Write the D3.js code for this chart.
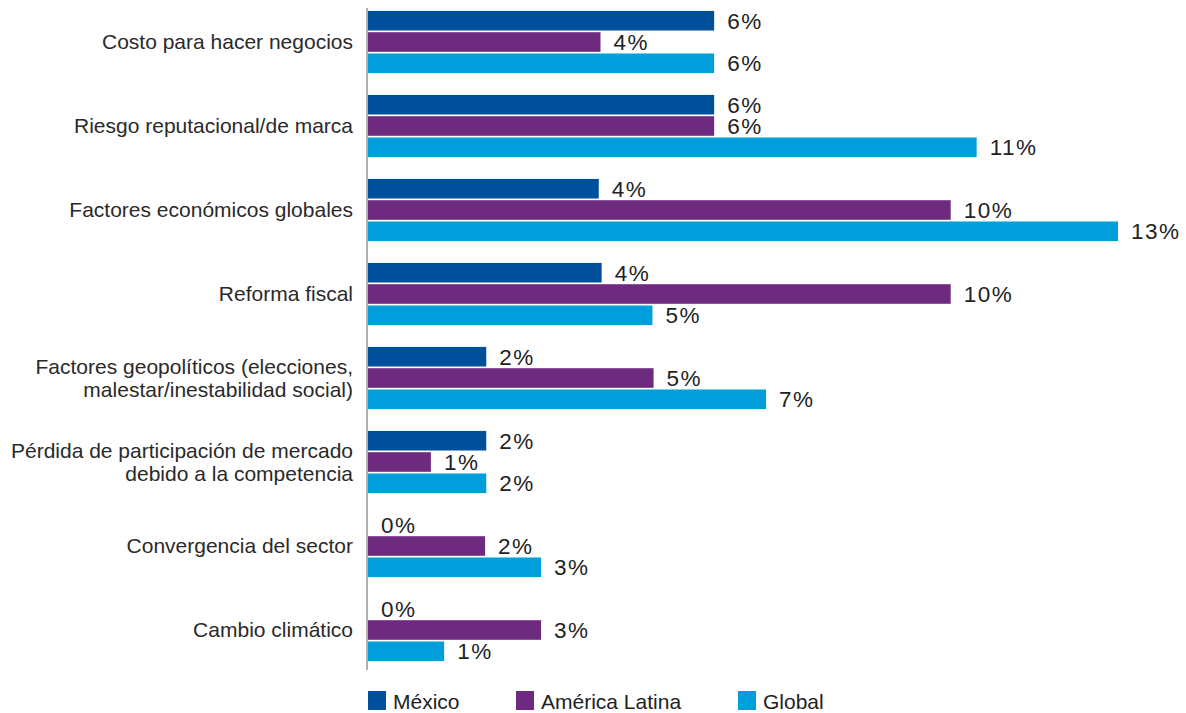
<!DOCTYPE html>
<html>
<head>
    <script src="https://cdn.jsdelivr.net/npm/d3@7/dist/d3.min.js"></script>
    <style>
        body {
            margin: 0;
            background: white;
        }
        svg text {
            font-family: "Liberation Sans", Arial, sans-serif;
            fill: #222;
        }
    </style>
</head>
<body>
<div id="chart"></div>
<script>
    // categories, top to bottom
    var categories = [
        ["Costo para hacer negocios"],
        ["Riesgo reputacional/de marca"],
        ["Factores económicos globales"],
        ["Reforma fiscal"],
        ["Factores geopolíticos (elecciones,", "malestar/inestabilidad social)"],
        ["Pérdida de participación de mercado", "debido a la competencia"],
        ["Convergencia del sector"],
        ["Cambio climático"]
    ];
    var seriesNames = ["México", "América Latina", "Global"];
    var seriesColors = ["#00509b", "#6d2a7e", "#009fdc"];

    // values in percent
    var mexico = [6.0, 6.0, 4.0, 4.05, 2.05, 2.05, 0, 0];
    var latam = [4.03, 6.0, 10.1, 10.1, 4.95, 1.09, 2.03, 3.0];
    var global = [6.0, 10.55, 13.0, 4.93, 6.9, 2.05, 3.0, 1.32];
    var series = [mexico, latam, global];

    var W = 1186, H = 713;
    var margin = {top: 0, left: 368};
    var x = d3.scaleLinear().domain([0, 13]).range([0, 750]);
    var y0 = d3.scaleBand().domain(d3.range(categories.length)).range([0, 672]).paddingInner(0.26).paddingOuter(0.13);
    var y1 = d3.scaleBand().domain(d3.range(seriesNames.length)).range([0, y0.bandwidth()]).paddingInner(0.08);

    var svg = d3.select("#chart").append("svg")
        .attr("width", W)
        .attr("height", H);
    var g = svg.append("g").attr("transform", "translate(" + margin.left + "," + margin.top + ")");

    // groups
    var groups = g.selectAll(".grp")
        .data(categories)
        .enter().append("g")
        .attr("class", "grp")
        .attr("transform", function (d, i) { return "translate(0," + y0(i) + ")"; });

    groups.each(function (cat, i) {
        var grp = d3.select(this);
        series.forEach(function (vals, s) {
            grp.append("rect")
                .attr("x", 0)
                .attr("y", y1(s))
                .attr("width", x(vals[i]))
                .attr("height", y1.bandwidth())
                .attr("fill", seriesColors[s]);
            grp.append("text")
                .attr("x", x(vals[i]) + 13)
                .attr("y", y1(s) + y1.bandwidth() / 2)
                .attr("dy", "0.36em")
                .style("font-size", "22.5px")
                .style("letter-spacing", "1.5px")
                .text(Math.round(vals[i]) + "%");
        });
        // category label
        var lbl = grp.append("text")
            .attr("x", -15)
            .attr("text-anchor", "end")
            .style("font-size", "21px")
            .style("fill", "#2a2a2a");
        var n = cat.length;
        cat.forEach(function (line, k) {
            lbl.append("tspan")
                .attr("x", -15)
                .attr("y", y0.bandwidth() / 2 + (k - (n - 1) / 2) * 23)
                .attr("dy", "0.35em")
                .text(line);
        });
    });

    // vertical axis line
    g.append("line")
        .attr("x1", -1).attr("x2", -1)
        .attr("y1", 8).attr("y2", 670)
        .attr("stroke", "#b0b0b0")
        .attr("stroke-width", 2);

    // legend
    var legendX = [0, 148, 370];
    var legend = g.selectAll(".leg")
        .data(seriesNames)
        .enter().append("g")
        .attr("class", "leg")
        .attr("transform", function (d, i) { return "translate(" + legendX[i] + ",691)"; });
    legend.append("rect")
        .attr("width", 18).attr("height", 19)
        .attr("fill", function (d, i) { return seriesColors[i]; });
    legend.append("text")
        .attr("x", 25).attr("y", 10).attr("dy", "0.36em")
        .style("font-size", "21px")
        .text(function (d) { return d; });
</script>
</body>
</html>
